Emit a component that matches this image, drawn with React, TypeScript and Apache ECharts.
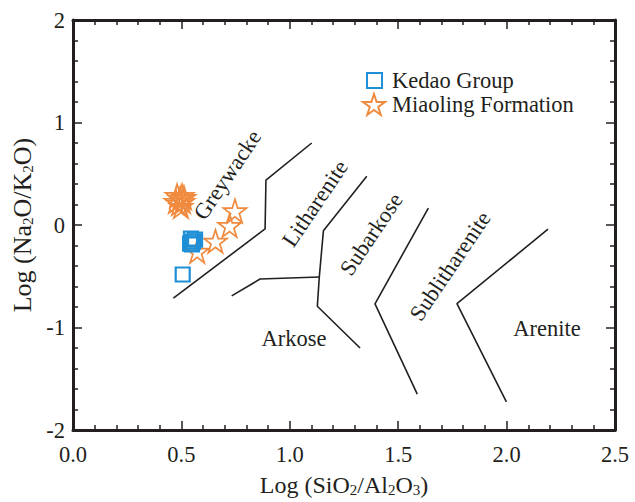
import React, { useEffect, useRef } from "react";
import * as echarts from "echarts";

// Axis ranges and ticks
const xRange = [0, 2.5];
const yRange = [-2, 2];
const xInterval = 0.5;
const yInterval = 1;

// Sample data
const kedaoGroup: [number, number][] = [
  [0.506, -0.483],
  [0.544, -0.133],
  [0.553, -0.162],
  [0.563, -0.143],
  [0.549, -0.19],
  [0.54, -0.181],
];
const miaolingFormation: [number, number][] = [
  [0.48, 0.286],
  [0.494, 0.257],
  [0.507, 0.229],
  [0.489, 0.21],
  [0.503, 0.286],
  [0.475, 0.229],
  [0.498, 0.181],
  [0.512, 0.267],
  [0.747, 0.138],
  [0.722, -0.005],
  [0.657, -0.159],
  [0.573, -0.257],
];

// Classification boundaries
const greywackeLine: [number, number][] = [
  [0.463, -0.714],
  [0.886, -0.038],
  [0.89, 0.438],
  [1.101, 0.8],
];
const arkoseBranch: [number, number][] = [
  [0.732, -0.692],
  [0.863, -0.527],
  [1.136, -0.508],
];
const litharenitLine: [number, number][] = [
  [1.355, 0.476],
  [1.155, -0.057],
  [1.136, -0.508],
  [1.127, -0.793],
  [1.324, -1.2],
];
const subarkoseLine: [number, number][] = [
  [1.639, 0.165],
  [1.393, -0.769],
  [1.588, -1.65],
];
const sublitharenitLine: [number, number][] = [
  [2.191, -0.041],
  [1.771, -0.767],
  [1.999, -1.726],
];

// Field labels
const fieldNames = ["Greywacke", "Litharenite", "Subarkose", "Sublitharenite", "Arkose", "Arenite"];
const fieldPositions: [number, number][] = [
  [0.712, 0.49],
  [1.116, 0.21],
  [1.375, -0.09],
  [1.739, -0.4],
  [1.019, -1.105],
  [2.186, -1.01],
];
const fieldRotations = [56, 56, 56, 56, 0, 0];

const INK = "#231f20";
const BLUE = "#1f8fd6";
const ORANGE = "#f08a3e";
const FONT = "Liberation Serif";
const FS = 22.5;
const STAR =
  "path://M50 0 L61.23 34.55 L97.55 34.55 L68.16 55.9 L79.39 90.45 L50 69.1 L20.61 90.45 L31.84 55.9 L2.45 34.55 L38.77 34.55 Z";

export default function App() {
  const ref = useRef<HTMLDivElement>(null);
  useEffect(() => {
    if (!ref.current) return;
    const chart = echarts.init(ref.current, null, { renderer: "svg" });
    const axisCommon = {
      type: "value" as const,
      axisLine: { show: true, onZero: false, lineStyle: { color: INK, width: 3 } },
      axisTick: { show: true, inside: true, length: 9, lineStyle: { color: INK, width: 1.5 } },
      minorTick: { show: true, splitNumber: 5, length: 5, lineStyle: { color: INK, width: 1.5 } },
      splitLine: { show: false },
    };
    const subRich = {
      sub: { fontSize: 15, fontFamily: FONT, color: INK, lineHeight: 10, verticalAlign: "bottom" },
    };
    const boundary = (data: [number, number][]) => ({
      type: "line",
      data,
      symbol: "none",
      silent: true,
      lineStyle: { color: INK, width: 1.6 },
      z: 1,
    });
    chart.setOption({
      animation: false,
      grid: { left: 73, right: 20, top: 20, bottom: 62 },
      legend: [
        {
          data: ["Kedao Group"],
          left: 366,
          top: 69,
          padding: 0,
          itemWidth: 15,
          itemHeight: 15,
          textStyle: { fontFamily: FONT, fontSize: FS, color: INK, padding: [0, 0, 0, 5] },
        },
        {
          data: ["Miaoling Formation"],
          left: 362,
          top: 93,
          padding: 0,
          itemWidth: 22,
          itemHeight: 22,
          textStyle: { fontFamily: FONT, fontSize: FS, color: INK, padding: [0, 0, 0, 2] },
        },
      ],
      xAxis: [
        {
          ...axisCommon,
          min: xRange[0],
          max: xRange[1],
          interval: xInterval,
          position: "bottom",
          axisLabel: {
            fontFamily: FONT,
            fontSize: FS,
            color: INK,
            margin: 13,
            formatter: (v: number) => v.toFixed(1),
          },
          name: "Log (SiO{sub|2}/Al{sub|2}O{sub|3})",
          nameLocation: "middle",
          nameGap: 42,
          nameTextStyle: { fontFamily: FONT, fontSize: 24, color: INK, lineHeight: 25, rich: subRich },
        },
        {
          ...axisCommon,
          min: xRange[0],
          max: xRange[1],
          interval: xInterval,
          position: "top",
          axisLabel: { show: false },
        },
      ],
      yAxis: [
        {
          ...axisCommon,
          min: yRange[0],
          max: yRange[1],
          interval: yInterval,
          position: "left",
          axisLabel: { fontFamily: FONT, fontSize: FS, color: INK, margin: 8 },
          name: "Log (Na{sub|2}O/K{sub|2}O)",
          nameLocation: "middle",
          nameGap: 34,
          nameTextStyle: { fontFamily: FONT, fontSize: 26, color: INK, lineHeight: 26, rich: subRich },
        },
        {
          ...axisCommon,
          min: yRange[0],
          max: yRange[1],
          interval: yInterval,
          position: "right",
          axisLabel: { show: false },
        },
      ],
      series: [
        boundary(greywackeLine),
        boundary(arkoseBranch),
        boundary(litharenitLine),
        boundary(subarkoseLine),
        boundary(sublitharenitLine),
        {
          type: "scatter",
          silent: true,
          symbolSize: 1,
          itemStyle: { color: "transparent", opacity: 1 },
          data: fieldNames.map((n, i) => ({
            name: n,
            value: fieldPositions[i],
            label: { rotate: fieldRotations[i] },
          })),
          label: {
            show: true,
            position: "inside",
            formatter: "{b}",
            fontFamily: FONT,
            fontSize: FS,
            color: INK,
            textBorderWidth: 0,
          },
          z: 2,
        },
        {
          name: "Kedao Group",
          type: "scatter",
          symbol: "rect",
          symbolSize: 14,
          itemStyle: { color: "transparent", borderColor: BLUE, borderWidth: 2.2, opacity: 1 },
          data: kedaoGroup,
          z: 4,
        },
        {
          name: "Miaoling Formation",
          type: "scatter",
          symbol: STAR,
          symbolSize: 23,
          itemStyle: { color: "transparent", borderColor: ORANGE, borderWidth: 1.7, opacity: 1 },
          data: miaolingFormation,
          z: 3,
        },
      ],
    });
    return () => chart.dispose();
  }, []);
  return (
    <div
      ref={ref}
      style={{ position: "fixed", left: 0, top: 0, width: 635, height: 502, background: "#fff" }}
    />
  );
}
